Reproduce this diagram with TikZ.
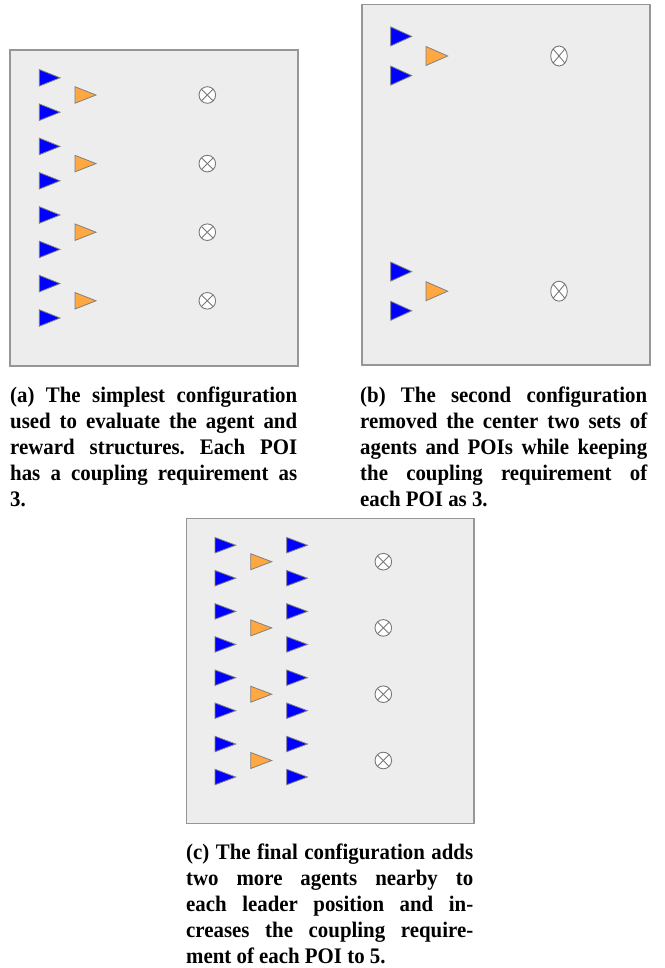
\documentclass[tikz,border=0pt]{standalone}
\usepackage{fontspec}
\setmainfont{Liberation Serif}[FakeStretch=0.94]
\definecolor{panelbg}{RGB}{237,237,237}
\definecolor{panelborder}{RGB}{150,150,150}
\definecolor{tribord}{RGB}{128,128,128}
\definecolor{agentblue}{RGB}{0,0,255}
\definecolor{leaderorange}{RGB}{255,167,64}
\definecolor{poigray}{RGB}{120,120,120}
\newcommand\agenttri[5]{% style, left x, center y, width, height
  \draw[#1] (#2,#3-#5/2) -- (#2+#4,#3) -- (#2,#3+#5/2) -- cycle;}
\newcommand\poimark[4]{% x, y, rx, ry
  \draw[poi] (#1,#2) ellipse [x radius=#3, y radius=#4];
  \draw[poi] (#1-0.7071*#3,#2-0.7071*#4) -- (#1+0.7071*#3,#2+0.7071*#4);
  \draw[poi] (#1-0.7071*#3,#2+0.7071*#4) -- (#1+0.7071*#3,#2-0.7071*#4);}
\tolerance=10000
\hyphenpenalty=10000
\frenchspacing
\begin{document}
\begin{tikzpicture}[x=1pt,y=-1pt,
  panel/.style={fill=panelbg,draw=panelborder,line width=1.2pt},
  agent/.style={fill=agentblue,draw=tribord,line width=0.8pt},
  leader/.style={fill=leaderorange,draw=tribord,line width=0.8pt},
  poi/.style={fill=white,draw=poigray,line width=0.9pt},
  captext/.style={anchor=base west,inner sep=0pt,text width=287pt,align=justify,
    font=\bfseries\fontsize{22.2}{26.2}\selectfont}]
\useasboundingbox (0,0) rectangle (664,968);

% ---------- panel (a)
\draw[panel] (10,50) rectangle (298,366);
\foreach \c in {95,163.6,232.2,300.8}{
  \agenttri{agent}{39.3}{\c-17.2}{20.7}{16.5}
  \agenttri{agent}{39.3}{\c+17.2}{20.7}{16.5}
  \agenttri{leader}{75}{\c}{21}{16.5}
  \poimark{207.3}{\c}{8.3}{8.3}
}
\node[captext] (capa) at (10,402) {(a) The simplest configuration\linebreak
used to evaluate the agent and\linebreak
reward structures. Each POI\linebreak
has a coupling requirement as\linebreak
3.};

% ---------- panel (b)
\draw[panel] (362,4.3) rectangle (650,365);
\foreach \c in {56,291.2}{
  \agenttri{agent}{390.7}{\c-19.6}{21}{19}
  \agenttri{agent}{390.7}{\c+19.6}{21}{19}
  \agenttri{leader}{426}{\c}{21.7}{19}
  \poimark{559}{\c}{8.3}{10}
}
\node[captext] (capb) at (360,402) {(b) The second configuration\linebreak
removed the center two sets of\linebreak
agents and POIs while keeping\linebreak
the coupling requirement of\linebreak
each POI as 3.};

% ---------- panel (c)
\draw[panel] (186.7,518.3) rectangle (474,823.3);
\foreach \c in {561.7,627.9,694.2,760.5}{
  \agenttri{agent}{215}{\c-16.5}{20.7}{15.5}
  \agenttri{agent}{215}{\c+16.5}{20.7}{15.5}
  \agenttri{agent}{286.7}{\c-16.5}{20.7}{15.5}
  \agenttri{agent}{286.7}{\c+16.5}{20.7}{15.5}
  \agenttri{leader}{250.7}{\c}{21}{16}
  \poimark{383.3}{\c}{8.3}{8.3}
}
\node[captext] (capc) at (186,859) {(c) The final configuration adds\linebreak
two more agents nearby to\linebreak
each leader position and in-\linebreak
creases the coupling require-\linebreak
ment of each POI to 5.};
\end{tikzpicture}
\end{document}
